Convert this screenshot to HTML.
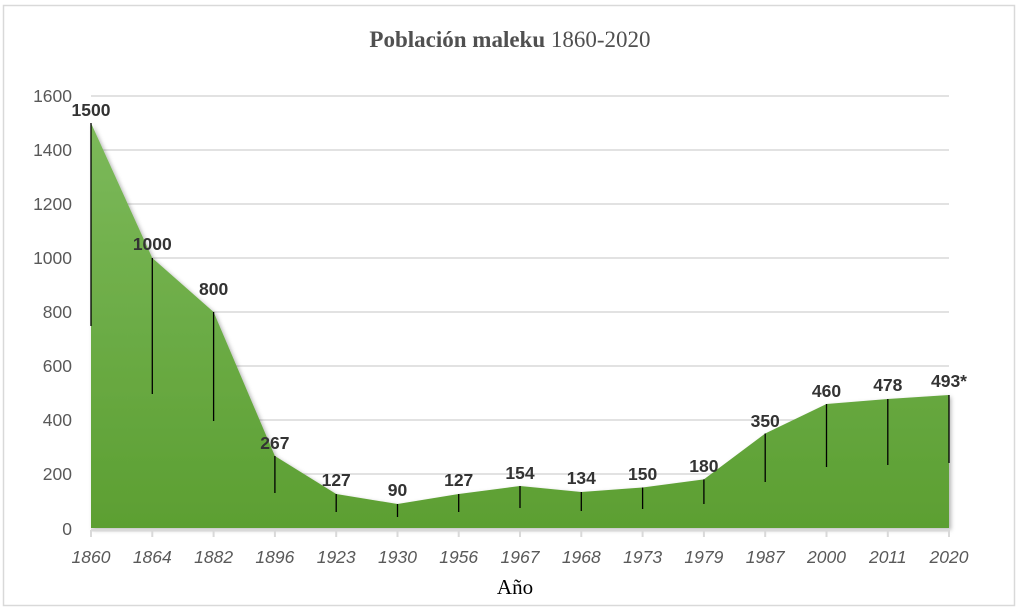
<!DOCTYPE html>
<html><head><meta charset="utf-8"><style>html,body{margin:0;padding:0;background:#fff}</style></head><body>
<svg width="1019" height="609" xmlns="http://www.w3.org/2000/svg">
<defs>
<linearGradient id="g" x1="0" y1="0" x2="0" y2="1"><stop offset="0" stop-color="#7cb95a"/><stop offset="1" stop-color="#5c9f32"/></linearGradient>
<filter id="s" x="-5%" y="-5%" width="110%" height="110%"><feDropShadow dx="2" dy="2" stdDeviation="2" flood-color="#000" flood-opacity="0.3"/></filter>
</defs>
<rect x="3.5" y="5.5" width="1011" height="600" fill="#fff" stroke="#d9d9d9" stroke-width="1.5"/>
<text x="510" y="47" text-anchor="middle" font-family="Liberation Serif, serif" font-size="23" fill="#505050"><tspan font-weight="bold">Población maleku</tspan> 1860-2020</text>
<g stroke="#d9d9d9" stroke-width="1.5">
<line x1="91" y1="96" x2="949" y2="96"/><line x1="91" y1="150" x2="949" y2="150"/><line x1="91" y1="204" x2="949" y2="204"/><line x1="91" y1="258" x2="949" y2="258"/><line x1="91" y1="312" x2="949" y2="312"/><line x1="91" y1="366" x2="949" y2="366"/><line x1="91" y1="420" x2="949" y2="420"/><line x1="91" y1="474" x2="949" y2="474"/>
</g>
<g font-family="Liberation Sans, sans-serif" font-size="17.5" fill="#595959" text-anchor="end">
<text x="72" y="102">1600</text><text x="72" y="156">1400</text><text x="72" y="210">1200</text><text x="72" y="264">1000</text><text x="72" y="318">800</text><text x="72" y="372">600</text><text x="72" y="426">400</text><text x="72" y="480">200</text><text x="72" y="535">0</text>
</g>
<polygon filter="url(#s)" fill="url(#g)" points="91,528 91,123 152.3,258 213.6,312 274.9,456 336.2,494 397.5,504 458.7,494 520,486 581.3,492 642.6,487.5 703.9,479.4 765.2,433.5 826.5,404 887.8,399 949,395 949,528"/>
<line x1="91" y1="530" x2="949" y2="530" stroke="#d9d9d9" stroke-width="3"/>
<g stroke="#d9d9d9" stroke-width="2">
<line x1="91" y1="530" x2="91" y2="537"/><line x1="152.3" y1="530" x2="152.3" y2="537"/><line x1="213.6" y1="530" x2="213.6" y2="537"/><line x1="274.9" y1="530" x2="274.9" y2="537"/><line x1="336.2" y1="530" x2="336.2" y2="537"/><line x1="397.5" y1="530" x2="397.5" y2="537"/><line x1="458.7" y1="530" x2="458.7" y2="537"/><line x1="520" y1="530" x2="520" y2="537"/><line x1="581.3" y1="530" x2="581.3" y2="537"/><line x1="642.6" y1="530" x2="642.6" y2="537"/><line x1="703.9" y1="530" x2="703.9" y2="537"/><line x1="765.2" y1="530" x2="765.2" y2="537"/><line x1="826.5" y1="530" x2="826.5" y2="537"/><line x1="887.8" y1="530" x2="887.8" y2="537"/><line x1="949" y1="530" x2="949" y2="537"/>
</g>
<g stroke="#000" stroke-width="1.3">
<line x1="91" y1="123" x2="91" y2="326"/><line x1="152.3" y1="258" x2="152.3" y2="394"/><line x1="213.6" y1="312" x2="213.6" y2="421"/><line x1="274.9" y1="456" x2="274.9" y2="493"/><line x1="336.2" y1="494" x2="336.2" y2="512"/><line x1="397.5" y1="504" x2="397.5" y2="517"/><line x1="458.7" y1="494" x2="458.7" y2="512"/><line x1="520" y1="486" x2="520" y2="508"/><line x1="581.3" y1="492" x2="581.3" y2="511"/><line x1="642.6" y1="487.5" x2="642.6" y2="509"/><line x1="703.9" y1="479.4" x2="703.9" y2="504"/><line x1="765.2" y1="433.5" x2="765.2" y2="482"/><line x1="826.5" y1="404" x2="826.5" y2="467"/><line x1="887.8" y1="399" x2="887.8" y2="465"/><line x1="949" y1="395" x2="949" y2="463"/>
</g>
<g font-family="Liberation Sans, sans-serif" font-size="17.5" font-weight="bold" fill="#333" text-anchor="middle">
<text x="91" y="116">1500</text><text x="152.3" y="250">1000</text><text x="213.6" y="295">800</text><text x="274.9" y="449">267</text><text x="336.2" y="486">127</text><text x="397.5" y="496">90</text><text x="458.7" y="486">127</text><text x="520" y="479">154</text><text x="581.3" y="484">134</text><text x="642.6" y="480">150</text><text x="703.9" y="472">180</text><text x="765.2" y="427">350</text><text x="826.5" y="397">460</text><text x="887.8" y="391">478</text><text x="949" y="387">493*</text>
</g>
<g font-family="Liberation Sans, sans-serif" font-size="17.5" font-style="italic" fill="#595959" text-anchor="middle">
<text x="91" y="563">1860</text><text x="152.3" y="563">1864</text><text x="213.6" y="563">1882</text><text x="274.9" y="563">1896</text><text x="336.2" y="563">1923</text><text x="397.5" y="563">1930</text><text x="458.7" y="563">1956</text><text x="520" y="563">1967</text><text x="581.3" y="563">1968</text><text x="642.6" y="563">1973</text><text x="703.9" y="563">1979</text><text x="765.2" y="563">1987</text><text x="826.5" y="563">2000</text><text x="887.8" y="563">2011</text><text x="949" y="563">2020</text>
</g>
<text x="515" y="594" text-anchor="middle" font-family="Liberation Serif, serif" font-size="21" fill="#000">Año</text>
</svg>
</body></html>
